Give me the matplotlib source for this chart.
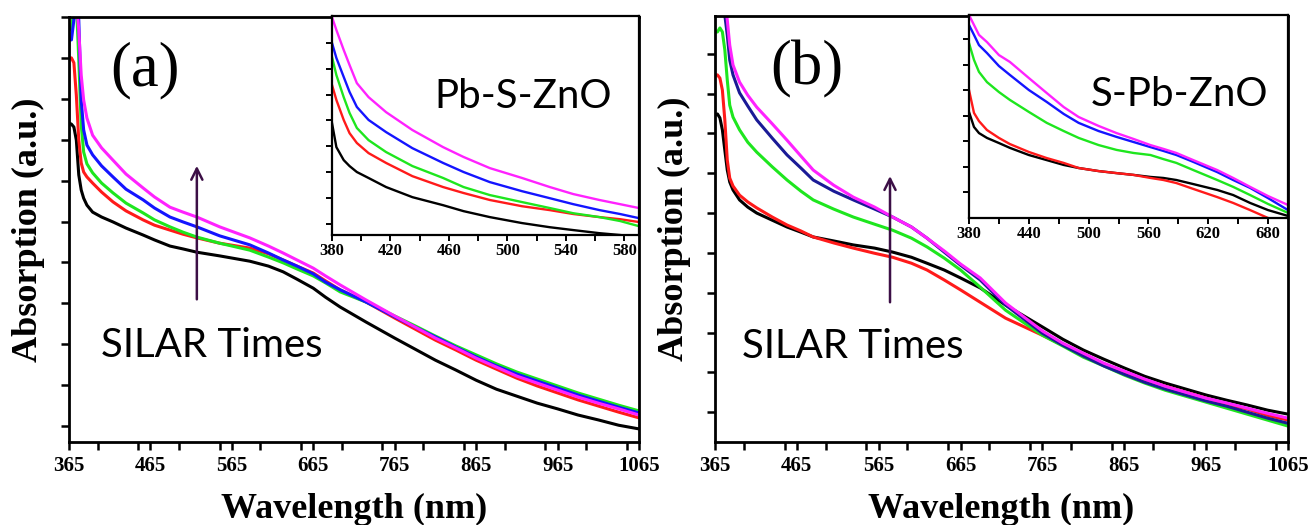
import matplotlib
matplotlib.use("Agg")
import matplotlib.pyplot as plt
from matplotlib.ticker import MultipleLocator, NullFormatter

# ---------------- Panel (a) main: Pb-S-ZnO ----------------
a_wl = [365, 368, 371, 374, 377, 380, 383, 387, 394, 405, 419, 435, 456, 470, 489, 505, 522, 550, 587, 610,
        628, 645, 665, 680, 698, 730, 765, 790, 815, 840, 865, 890, 915, 940, 965, 990, 1015, 1040, 1065]
a_black = [0.741, 0.738, 0.731, 0.699, 0.614, 0.577, 0.557, 0.540, 0.523, 0.511, 0.499, 0.484, 0.467, 0.455, 0.440, 0.433, 0.425, 0.416, 0.403, 0.391,
           0.377, 0.359, 0.337, 0.315, 0.291, 0.254, 0.215, 0.188, 0.161, 0.137, 0.112, 0.090, 0.073, 0.056, 0.042, 0.027, 0.015, 0.002, -0.007]
a_red = [0.900, 0.900, 0.888, 0.809, 0.699, 0.643, 0.621, 0.609, 0.594, 0.572, 0.548, 0.526, 0.504, 0.491, 0.479, 0.469, 0.460, 0.447, 0.435, 0.421,
         0.406, 0.391, 0.374, 0.355, 0.333, 0.303, 0.264, 0.237, 0.210, 0.186, 0.161, 0.139, 0.117, 0.098, 0.081, 0.064, 0.049, 0.034, 0.020]
a_green = [0.968, 0.973, 1.017, 1.042, 0.895, 0.736, 0.670, 0.641, 0.619, 0.594, 0.570, 0.545, 0.521, 0.504, 0.487, 0.474, 0.462, 0.447, 0.430, 0.413,
           0.399, 0.384, 0.367, 0.350, 0.328, 0.303, 0.269, 0.245, 0.220, 0.196, 0.174, 0.152, 0.132, 0.115, 0.098, 0.081, 0.066, 0.051, 0.037]
a_blue = [0.944, 0.944, 0.993, 1.042, 0.993, 0.797, 0.724, 0.687, 0.663, 0.636, 0.609, 0.579, 0.553, 0.533, 0.511, 0.499, 0.487, 0.465, 0.443, 0.423,
          0.406, 0.391, 0.372, 0.352, 0.333, 0.303, 0.267, 0.242, 0.218, 0.193, 0.169, 0.147, 0.127, 0.110, 0.093, 0.076, 0.061, 0.046, 0.032]
a_magenta = [1.042, 1.042, 1.042, 1.042, 0.968, 0.858, 0.797, 0.753, 0.711, 0.680, 0.650, 0.616, 0.582, 0.560, 0.535, 0.523, 0.511, 0.487, 0.460, 0.440,
             0.423, 0.406, 0.386, 0.367, 0.345, 0.308, 0.269, 0.242, 0.215, 0.191, 0.166, 0.144, 0.122, 0.105, 0.088, 0.071, 0.056, 0.042, 0.027]

# ---------------- Panel (a) inset ----------------
ai_wl = [380, 383, 388, 392, 397, 405, 417, 435, 456, 470, 488, 510, 529, 545, 563, 577, 590]
ai_black = [0.390, 0.297, 0.247, 0.224, 0.201, 0.178, 0.143, 0.104, 0.073, 0.050, 0.027, 0.004, -0.012, -0.023, -0.035, -0.042, -0.050]
ai_red = [0.537, 0.479, 0.402, 0.351, 0.313, 0.274, 0.236, 0.185, 0.143, 0.120, 0.093, 0.069, 0.054, 0.039, 0.027, 0.019, 0.008]
ai_green = [0.645, 0.575, 0.490, 0.429, 0.371, 0.324, 0.278, 0.224, 0.178, 0.143, 0.112, 0.085, 0.062, 0.042, 0.027, 0.012, -0.008]
ai_blue = [0.699, 0.641, 0.568, 0.510, 0.452, 0.402, 0.355, 0.293, 0.236, 0.201, 0.162, 0.127, 0.100, 0.077, 0.054, 0.039, 0.023]
ai_magenta = [0.799, 0.749, 0.672, 0.614, 0.544, 0.490, 0.432, 0.363, 0.297, 0.259, 0.216, 0.178, 0.143, 0.116, 0.093, 0.077, 0.062]
ai_xticks = [380, 420, 460, 500, 540, 580]

# ---------------- Panel (b) main: S-Pb-ZnO ----------------
b_wl = [365, 368, 371, 374, 377, 380, 383, 387, 395, 405, 416, 435, 453, 470, 485, 510, 534, 560, 582, 605,
        624, 645, 665, 689, 720, 765, 790, 815, 840, 865, 890, 915, 940, 965, 990, 1015, 1040, 1065]
b_black = [0.746, 0.749, 0.739, 0.709, 0.658, 0.608, 0.578, 0.558, 0.533, 0.515, 0.500, 0.482, 0.465, 0.452, 0.440, 0.430, 0.420, 0.412, 0.402, 0.389,
           0.374, 0.357, 0.337, 0.312, 0.269, 0.214, 0.183, 0.156, 0.133, 0.111, 0.090, 0.073, 0.058, 0.043, 0.030, 0.018, 0.005, -0.005]
b_red = [0.847, 0.847, 0.839, 0.809, 0.734, 0.633, 0.588, 0.568, 0.545, 0.528, 0.513, 0.490, 0.470, 0.455, 0.440, 0.425, 0.412, 0.399, 0.389, 0.374,
         0.357, 0.332, 0.307, 0.276, 0.236, 0.193, 0.168, 0.143, 0.121, 0.101, 0.080, 0.065, 0.050, 0.035, 0.020, 0.008, -0.008, -0.020]
b_green = [0.955, 0.955, 0.965, 0.955, 0.910, 0.834, 0.771, 0.741, 0.709, 0.678, 0.653, 0.616, 0.583, 0.555, 0.533, 0.510, 0.490, 0.472, 0.457, 0.437,
           0.415, 0.387, 0.357, 0.314, 0.256, 0.193, 0.166, 0.138, 0.116, 0.093, 0.073, 0.055, 0.040, 0.025, 0.010, -0.005, -0.020, -0.035]
b_blue = [1.035, 1.035, 1.035, 1.035, 0.997, 0.947, 0.884, 0.847, 0.802, 0.769, 0.734, 0.688, 0.646, 0.613, 0.583, 0.555, 0.533, 0.510, 0.490, 0.465,
          0.437, 0.402, 0.369, 0.332, 0.269, 0.198, 0.168, 0.141, 0.116, 0.095, 0.075, 0.058, 0.043, 0.028, 0.015, 0.000, -0.015, -0.028]
b_magenta = [1.035, 1.035, 1.035, 1.035, 1.035, 0.985, 0.922, 0.872, 0.829, 0.796, 0.766, 0.724, 0.683, 0.643, 0.608, 0.570, 0.540, 0.515, 0.490, 0.465,
             0.437, 0.405, 0.372, 0.337, 0.274, 0.204, 0.173, 0.148, 0.123, 0.103, 0.083, 0.065, 0.050, 0.035, 0.023, 0.010, -0.003, -0.015]

# ---------------- Panel (b) inset ----------------
bi_wl = [380, 385, 390, 398, 410, 421, 440, 458, 475, 490, 510, 528, 545, 562, 575, 588, 605, 629, 645, 662, 680, 700]
bi_black = [0.416, 0.357, 0.333, 0.314, 0.294, 0.275, 0.247, 0.227, 0.208, 0.196, 0.184, 0.176, 0.169, 0.161, 0.157, 0.149, 0.133, 0.110, 0.090, 0.059, 0.031, 0.008]
bi_red = [0.502, 0.412, 0.380, 0.345, 0.314, 0.290, 0.259, 0.235, 0.216, 0.196, 0.184, 0.176, 0.169, 0.157, 0.149, 0.137, 0.114, 0.082, 0.059, 0.031, 0.000, -0.031]
bi_green = [0.686, 0.620, 0.573, 0.533, 0.494, 0.463, 0.416, 0.373, 0.341, 0.314, 0.286, 0.267, 0.255, 0.247, 0.231, 0.216, 0.188, 0.149, 0.122, 0.090, 0.055, 0.020]
bi_blue = [0.757, 0.718, 0.678, 0.647, 0.596, 0.561, 0.502, 0.455, 0.408, 0.373, 0.341, 0.318, 0.298, 0.278, 0.263, 0.247, 0.220, 0.180, 0.149, 0.118, 0.078, 0.031]
bi_magenta = [0.796, 0.757, 0.718, 0.690, 0.639, 0.612, 0.549, 0.490, 0.435, 0.396, 0.361, 0.333, 0.310, 0.286, 0.271, 0.255, 0.227, 0.188, 0.157, 0.122, 0.086, 0.051]
bi_xticks = [380, 440, 500, 560, 620, 680]

main_xticks = [365, 465, 565, 665, 765, 865, 965, 1065]

COL_BLACK = "#000000"
COL_RED = "#ff1a1a"
COL_GREEN = "#1ee61e"
COL_BLUE = "#1414ff"
COL_BLUE_B = "#1a1a96"
COL_MAG = "#ff22ff"
ARROW_COL = "#3c0f46"

SERIF = ["Liberation Serif", "DejaVu Serif"]
SANS = ["Lato", "DejaVu Sans"]

W, H = 1311, 525
fig = plt.figure(figsize=(W / 100, H / 100), dpi=100)


def px_axes(l, t, r, b):
    return fig.add_axes([l / W, 1 - b / H, (r - l) / W, (b - t) / H])


def style_main(ax, ylo, yhi, nticks):
    ax.set_xlim(365, 1065)
    ax.set_ylim(ylo, yhi)
    ax.set_xticks(main_xticks)
    ax.xaxis.set_minor_locator(MultipleLocator(50))
    ax.set_yticks([i * 0.1 for i in range(nticks)])
    ax.yaxis.set_major_formatter(NullFormatter())
    ax.tick_params(axis="both", which="both", direction="out", width=1.8, length=6)
    ax.tick_params(axis="x", which="major", pad=4)
    for lab in ax.get_xticklabels():
        lab.set_fontfamily(SERIF)
        lab.set_fontweight("bold")
        lab.set_fontsize(15)
    for s in ax.spines.values():
        s.set_linewidth(2.0)
    ax.set_xlabel("Wavelength (nm)", fontfamily=SERIF, fontweight="bold", fontsize=26, labelpad=12)
    ax.set_ylabel("Absorption (a.u.)", fontfamily=SERIF, fontweight="bold", fontsize=26, labelpad=8)


def style_inset(ax, xlo, xhi, xt, ylo, yhi, yt):
    ax.set_xlim(xlo, xhi)
    ax.set_ylim(ylo, yhi)
    ax.set_xticks(xt)
    step = (xt[1] - xt[0]) / 2
    ax.set_xticks([t + step for t in xt if t + step < xhi], minor=True)
    ax.set_yticks(yt)
    ax.yaxis.set_major_formatter(NullFormatter())
    ax.tick_params(axis="both", which="both", direction="out", width=1.4, length=4, pad=2)
    for lab in ax.get_xticklabels():
        lab.set_fontfamily(SERIF)
        lab.set_fontweight("bold")
        lab.set_fontsize(12)
    for s in ax.spines.values():
        s.set_linewidth(1.6)


LW = 2.2
LWI = 1.7

# ---- Panel (a)
axa = px_axes(69, 17, 639, 442)
axa.plot(a_wl, a_black, color=COL_BLACK, lw=LW)
axa.plot(a_wl, a_red, color=COL_RED, lw=LW)
axa.plot(a_wl, a_green, color=COL_GREEN, lw=LW)
axa.plot(a_wl, a_blue, color=COL_BLUE, lw=LW)
axa.plot(a_wl, a_magenta, color=COL_MAG, lw=LW)
style_main(axa, -0.039, 1.0, 11)
axa.text(458, 0.870, "(a)", fontfamily=SERIF, fontsize=45, ha="center", va="center")
axa.text(540, 0.196, "SILAR Times", fontfamily=SANS, fontsize=29, ha="center", va="center")
axa.annotate("", xy=(522, 0.643), xytext=(522, 0.303),
             arrowprops=dict(arrowstyle="->,head_length=0.8,head_width=0.4", color=ARROW_COL, lw=1.8))

axai = px_axes(332, 16, 639, 235)
axai.plot(ai_wl, ai_black, color=COL_BLACK, lw=LWI)
axai.plot(ai_wl, ai_red, color=COL_RED, lw=LWI)
axai.plot(ai_wl, ai_green, color=COL_GREEN, lw=LWI)
axai.plot(ai_wl, ai_blue, color=COL_BLUE, lw=LWI)
axai.plot(ai_wl, ai_magenta, color=COL_MAG, lw=LWI)
style_inset(axai, 380, 590, ai_xticks, -0.042, 0.803, [i * 0.1 for i in range(8)])
axai.text(510.6, 0.494, "Pb-S-ZnO", fontfamily=SANS, fontsize=29, ha="center", va="center")

# ---- Panel (b)
axb = px_axes(715, 16, 1288, 442)
axb.plot(b_wl, b_black, color=COL_BLACK, lw=LW)
axb.plot(b_wl, b_red, color=COL_RED, lw=LW)
axb.plot(b_wl, b_green, color=COL_GREEN, lw=LW)
axb.plot(b_wl, b_blue, color=COL_BLUE_B, lw=LW)
axb.plot(b_wl, b_magenta, color=COL_MAG, lw=LW)
style_main(axb, -0.075, 0.995, 10)
axb.text(477, 0.860, "(b)", fontfamily=SERIF, fontsize=45, ha="center", va="center")
axb.text(533, 0.166, "SILAR Times", fontfamily=SANS, fontsize=29, ha="center", va="center")
axb.annotate("", xy=(578.8, 0.600), xytext=(578.8, 0.269),
             arrowprops=dict(arrowstyle="->,head_length=0.8,head_width=0.4", color=ARROW_COL, lw=1.8))

axbi = px_axes(969, 15, 1288, 218)
axbi.plot(bi_wl, bi_black, color=COL_BLACK, lw=LWI)
axbi.plot(bi_wl, bi_red, color=COL_RED, lw=LWI)
axbi.plot(bi_wl, bi_green, color=COL_GREEN, lw=LWI)
axbi.plot(bi_wl, bi_blue, color=COL_BLUE, lw=LWI)
axbi.plot(bi_wl, bi_magenta, color=COL_MAG, lw=LWI)
style_inset(axbi, 380, 700, bi_xticks, 0.0, 0.796, [i * 0.1 for i in range(1, 8)])
axbi.text(591, 0.486, "S-Pb-ZnO", fontfamily=SANS, fontsize=29, ha="center", va="center")

fig.savefig("out.png", dpi=100)
